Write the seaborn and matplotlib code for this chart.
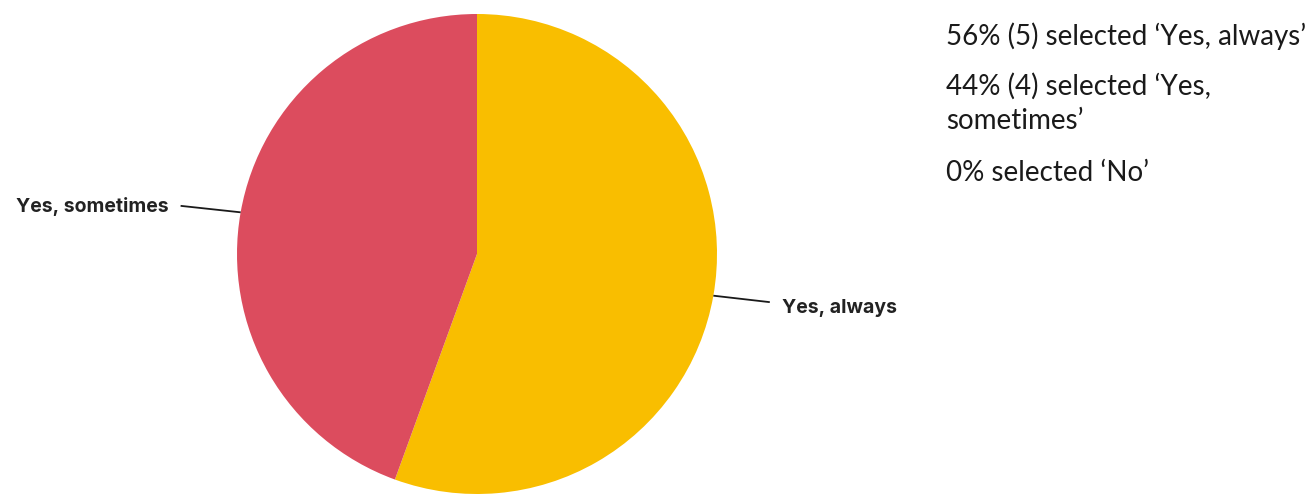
import numpy as np
import matplotlib
matplotlib.use("Agg")
import matplotlib.pyplot as plt
import seaborn as sns

# Survey responses
categories = ["Yes, always", "Yes, sometimes", "No"]
counts = [5, 4, 0]
summary_lines = [
    "56% (5) selected \u2018Yes, always\u2019",
    "44% (4) selected \u2018Yes,\nsometimes\u2019",
    "0% selected \u2018No\u2019",
]
colors = ["#F9BE00", "#DC4C5E", "#2E7D87"]

sns.set_theme(style="white")
plt.rcParams["font.family"] = ["Lato", "DejaVu Sans"]

W, H = 1308, 494
fig = plt.figure(figsize=(W / 100, H / 100), dpi=100)
fig.patch.set_facecolor("white")

cx, cy, r = 477, 254, 240
ax = fig.add_axes([(cx - r) / W, (H - cy - r) / H, 2 * r / W, 2 * r / H])

# Only non-empty responses get a slice
vals = [c for c in counts if c > 0]
labs = [l for l, c in zip(categories, counts) if c > 0]
cols = [col for col, c in zip(colors, counts) if c > 0]

wedges, _ = ax.pie(vals, colors=cols, startangle=90, counterclock=False,
                   radius=1, wedgeprops=dict(linewidth=0))
ax.set_xlim(-1, 1)
ax.set_ylim(-1, 1)
ax.set_aspect("equal")
ax.axis("off")
for w in wedges:
    w.set_clip_on(False)

# Leader lines and slice labels
for w, lab in zip(wedges, labs):
    mid = np.deg2rad((w.theta1 + w.theta2) / 2)
    x0, y0 = np.cos(mid), np.sin(mid)
    side = 1 if x0 >= 0 else -1
    x1 = side * (1.22 if side > 0 else 1.235)
    y1 = y0 - side * 0.027
    ax.plot([x0, x1], [y0, y1], color="#1a1a1a", lw=1.3, clip_on=False,
            solid_capstyle="butt")
    ax.text(x1 + side * 0.05, y1 - (0.025 if side > 0 else 0.004), lab,
            ha="left" if side > 0 else "right", va="center",
            fontsize=14, fontweight="bold", color="#222222",
            family=["Inter", "DejaVu Sans"], clip_on=False)

# Summary text on the right
ys = [36, 103, 173]
for line, y in zip(summary_lines, ys):
    fig.text(946 / W, 1 - y / H, line, ha="left", va="center",
             fontsize=20, color="#1a1a1a", linespacing=1.4)

fig.savefig("out.png", dpi=100, facecolor="white")
